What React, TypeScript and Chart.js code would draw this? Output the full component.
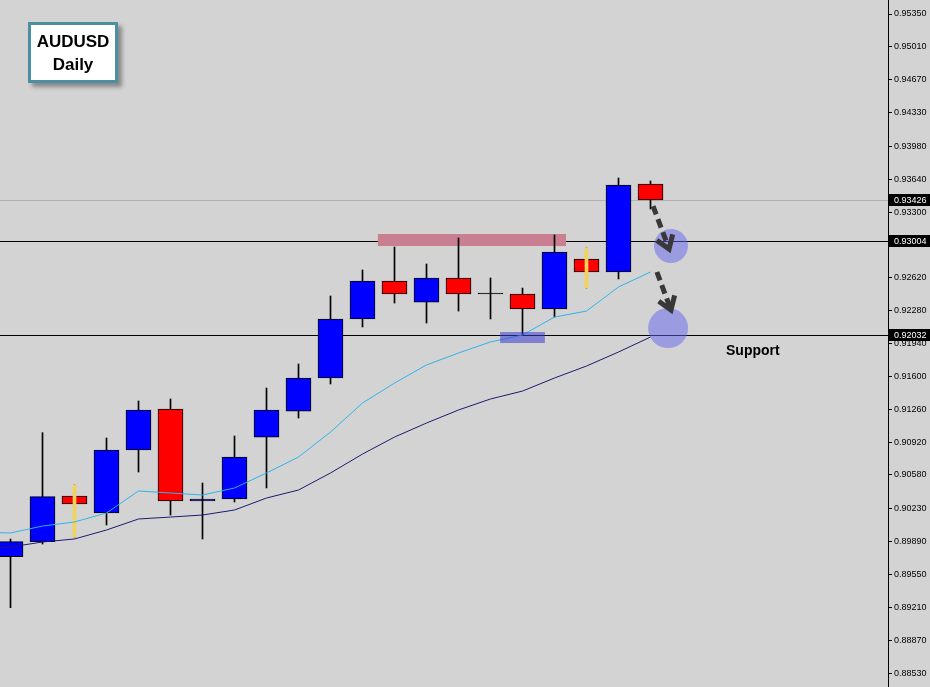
import { useEffect, useRef } from "react";
import { Chart, registerables } from "chart.js";

Chart.register(...registerables);

// ---- Data (AUDUSD Daily) ----
const candleIndex = [0, 1, 2, 3, 4, 5, 6, 7, 8, 9, 10, 11, 12, 13, 14, 15, 16, 17, 18, 19, 20];
const opens = [0.89734, 0.89889, 0.90362, 0.90186, 0.90838, 0.91262, 0.9031, 0.90331, 0.90972, 0.91241, 0.91583, 0.92194, 0.92587, 0.92369, 0.92618, 0.92452, 0.92452, 0.92297, 0.92814, 0.9268, 0.93591];
const highs = [0.89917, 0.91017, 0.90476, 0.90962, 0.91345, 0.91366, 0.90496, 0.90983, 0.91479, 0.91728, 0.92432, 0.92701, 0.92939, 0.92763, 0.93032, 0.92618, 0.92514, 0.93063, 0.92928, 0.93653, 0.93622];
const lows = [0.89206, 0.89865, 0.89937, 0.90062, 0.9061, 0.90165, 0.89917, 0.903, 0.90445, 0.91169, 0.91521, 0.92111, 0.92359, 0.92152, 0.92276, 0.92194, 0.92028, 0.92214, 0.92514, 0.92608, 0.93332];
const closes = [0.89889, 0.90355, 0.90279, 0.90838, 0.91252, 0.9031, 0.90331, 0.90765, 0.91252, 0.91583, 0.92194, 0.92587, 0.92452, 0.92618, 0.92452, 0.92452, 0.92297, 0.92887, 0.9268, 0.9358, 0.93426];
const highlightedCandles = [2, 18];

const maIndex = [-1, 0, 1, 2, 3, 4, 5, 6, 7, 8, 9, 10, 11, 12, 13, 14, 15, 16, 17, 18, 19, 20];
const maFast = [0.89989, 0.89979, 0.90051, 0.90093, 0.90186, 0.90414, 0.90393, 0.90372, 0.90445, 0.906, 0.90765, 0.91024, 0.91324, 0.91531, 0.91718, 0.91842, 0.91956, 0.92028, 0.92214, 0.92276, 0.92525, 0.9268];
const maSlow = [0.89815, 0.89834, 0.89886, 0.89917, 0.9001, 0.90124, 0.90144, 0.90165, 0.90217, 0.90341, 0.90424, 0.906, 0.90796, 0.90972, 0.91117, 0.91252, 0.91366, 0.91448, 0.91583, 0.91707, 0.91852, 0.92007];

const priceTicks = [0.9535, 0.9501, 0.9467, 0.9433, 0.9398, 0.9364, 0.933, 0.9296, 0.9262, 0.9228, 0.9194, 0.916, 0.9126, 0.9092, 0.9058, 0.9023, 0.8989, 0.8955, 0.8921, 0.8887, 0.8853];
const levelLines = [0.93004, 0.92032];
const currentPrice = 0.93426;
const priceMin = 0.883853;
const priceMax = 0.954949;

// zones: [xStart, xEnd, priceTop, priceBottom]
const resistanceZone = [11.48, 17.36, 0.93073, 0.92949];
const supportZone = [15.3, 16.7, 0.92059, 0.91945];
// circles: [x, price]
const targetCircles = [
  [20.64, 0.92949],
  [20.55, 0.921],
];
// arrows: [x0, p0, x1, p1]
const arrows = [
  [20.08, 0.93363, 20.58, 0.92918],
  [20.2, 0.9268, 20.64, 0.92287],
];
const supportLabel = { text: "Support", x: 22.36, price: 0.91862 };

const BULL = "#0000ff";
const BEAR = "#ff0000";
const BG = "#d3d3d3";

export default function App() {
  const ref = useRef<HTMLCanvasElement>(null);

  useEffect(() => {
    if (!ref.current) return;
    const bodies = candleIndex.map((x, i) => ({ x, y: [opens[i], closes[i]] }));
    const wicks = candleIndex.map((x, i) => ({ x, y: [lows[i], highs[i]] }));
    const bodyColors = candleIndex.map((_, i) =>
      closes[i] > opens[i] ? BULL : closes[i] < opens[i] ? BEAR : "#000000"
    );
    const yellow = highlightedCandles.map((i) => ({ x: candleIndex[i], y: [lows[i], highs[i]] }));
    const fast = maIndex.map((x, i) => ({ x, y: maFast[i] }));
    const slow = maIndex.map((x, i) => ({ x, y: maSlow[i] }));

    const overlay = {
      id: "overlay",
      beforeDatasetsDraw(chart: any) {
        const { ctx, chartArea: a, scales } = chart;
        const xs = scales.x;
        const ys = scales.y;
        ctx.save();
        ctx.lineWidth = 1;
        let yp = Math.round(ys.getPixelForValue(currentPrice)) + 0.5;
        ctx.strokeStyle = "#b2b2b2";
        ctx.beginPath();
        ctx.moveTo(a.left, yp);
        ctx.lineTo(a.right, yp);
        ctx.stroke();
        ctx.strokeStyle = "#000";
        levelLines.forEach((lv) => {
          yp = Math.round(ys.getPixelForValue(lv)) + 0.5;
          ctx.beginPath();
          ctx.moveTo(a.left, yp);
          ctx.lineTo(a.right, yp);
          ctx.stroke();
        });
        const [rx0, rx1, rt, rb] = resistanceZone;
        const px0 = xs.getPixelForValue(rx0);
        const px1 = xs.getPixelForValue(rx1);
        const py0 = ys.getPixelForValue(rt);
        const py1 = ys.getPixelForValue(rb);
        ctx.fillStyle = "#c97e91";
        ctx.fillRect(px0, py0, px1 - px0, py1 - py0);
        ctx.restore();
      },
      afterDatasetsDraw(chart: any) {
        const { ctx, scales } = chart;
        const xs = scales.x;
        const ys = scales.y;
        ctx.save();
        const [sx0, sx1, st, sb] = supportZone;
        const a0 = xs.getPixelForValue(sx0);
        const a1 = xs.getPixelForValue(sx1);
        const b0 = ys.getPixelForValue(st);
        const b1 = ys.getPixelForValue(sb);
        ctx.fillStyle = "rgba(60,60,210,0.55)";
        ctx.fillRect(a0, b0, a1 - a0, b1 - b0);

        const radii = [17, 20];
        targetCircles.forEach(([cx, cp], i) => {
          ctx.fillStyle = "rgba(100,100,240,0.5)";
          ctx.beginPath();
          ctx.arc(xs.getPixelForValue(cx), ys.getPixelForValue(cp), radii[i], 0, Math.PI * 2);
          ctx.fill();
        });

        ctx.strokeStyle = "#383838";
        ctx.lineWidth = 5;
        arrows.forEach(([x0, p0, x1, p1]) => {
          const X0 = xs.getPixelForValue(x0);
          const Y0 = ys.getPixelForValue(p0);
          const X1 = xs.getPixelForValue(x1);
          const Y1 = ys.getPixelForValue(p1);
          const ang = Math.atan2(Y1 - Y0, X1 - X0);
          ctx.setLineDash([9, 5]);
          ctx.lineCap = "butt";
          ctx.beginPath();
          ctx.moveTo(X0, Y0);
          ctx.lineTo(X1 - Math.cos(ang) * 3, Y1 - Math.sin(ang) * 3);
          ctx.stroke();
          ctx.setLineDash([]);
          ctx.lineJoin = "miter";
          const hl = 15;
          const spread = 0.6;
          ctx.beginPath();
          ctx.moveTo(X1 - hl * Math.cos(ang - spread), Y1 - hl * Math.sin(ang - spread));
          ctx.lineTo(X1, Y1);
          ctx.lineTo(X1 - hl * Math.cos(ang + spread), Y1 - hl * Math.sin(ang + spread));
          ctx.stroke();
        });

        ctx.fillStyle = "#000";
        ctx.font = "bold 14px 'Liberation Sans', Arial, sans-serif";
        ctx.textAlign = "left";
        ctx.textBaseline = "middle";
        ctx.fillText(supportLabel.text, xs.getPixelForValue(supportLabel.x), ys.getPixelForValue(supportLabel.price));
        ctx.restore();
      },
      afterDraw(chart: any) {
        const { ctx, chartArea: a, scales } = chart;
        const ys = scales.y;
        ctx.save();
        ctx.font = "9px 'Liberation Sans', Arial, sans-serif";
        ctx.textBaseline = "middle";
        ctx.textAlign = "left";
        [currentPrice, ...levelLines].forEach((p) => {
          const yp = Math.round(ys.getPixelForValue(p));
          ctx.fillStyle = "#000";
          ctx.fillRect(a.right + 1, yp - 6, 41, 12);
          ctx.fillStyle = "#fff";
          ctx.fillText(p.toFixed(5), a.right + 6, yp + 0.5);
        });
        ctx.restore();
      },
    };

    const chart = new Chart(ref.current, {
      type: "bar",
      data: {
        datasets: [
          {
            type: "bar",
            data: wicks as any,
            backgroundColor: "#000",
            borderWidth: 0,
            barThickness: 1,
            grouped: false,
            order: 4,
          } as any,
          {
            type: "bar",
            data: bodies as any,
            backgroundColor: bodyColors,
            borderColor: "#000",
            borderWidth: 1,
            borderSkipped: false,
            barThickness: 25,
            minBarLength: 1,
            grouped: false,
            order: 3,
          } as any,
          {
            type: "bar",
            data: yellow as any,
            backgroundColor: "#f2d35c",
            borderWidth: 0,
            barThickness: 3,
            grouped: false,
            order: 2,
          } as any,
          {
            type: "line",
            data: fast as any,
            borderColor: "#2eb4ea",
            borderWidth: 1,
            pointRadius: 0,
            tension: 0,
            order: 1,
          } as any,
          {
            type: "line",
            data: slow as any,
            borderColor: "#1b1b70",
            borderWidth: 1,
            pointRadius: 0,
            tension: 0,
            order: 1,
          } as any,
        ],
      },
      options: {
        animation: false,
        responsive: true,
        maintainAspectRatio: false,
        layout: { padding: 0 },
        plugins: { legend: { display: false }, tooltip: { enabled: false } },
        scales: {
          x: {
            type: "linear",
            display: false,
            offset: false,
            min: -10.5 / 32,
            max: (888 - 10.5) / 32,
          },
          y: {
            type: "linear",
            position: "right",
            min: priceMin,
            max: priceMax,
            beginAtZero: false,
            afterBuildTicks: (s: any) => {
              s.ticks = priceTicks.map((v) => ({ value: v }));
            },
            afterFit: (s: any) => {
              s.width = 42;
              s.paddingTop = 0;
              s.paddingBottom = 0;
            },
            grid: {
              display: true,
              drawOnChartArea: false,
              drawTicks: true,
              tickLength: 4,
              color: "#000",
            },
            border: { display: true, color: "#000", width: 1 },
            ticks: {
              autoSkip: false,
              padding: 2,
              color: "#000",
              font: { family: "'Liberation Sans', Arial, sans-serif", size: 9 },
              callback: (v: any) => Number(v).toFixed(5),
            },
          } as any,
        },
      },
      plugins: [overlay],
    } as any);

    return () => chart.destroy();
  }, []);

  return (
    <div style={{ position: "relative", width: 930, height: 687, background: BG, overflow: "hidden" }}>
      <style>{"body{margin:0}"}</style>
      <canvas ref={ref} />
      <div
        style={{
          position: "absolute",
          left: 28,
          top: 22,
          width: 90,
          height: 61,
          boxSizing: "border-box",
          border: "3px solid #4b8fa1",
          background: "#fff",
          boxShadow: "4px 4px 4px rgba(0,0,0,0.35)",
          fontFamily: "'Liberation Sans', Arial, sans-serif",
          fontWeight: "bold",
          fontSize: 17,
          lineHeight: "23px",
          textAlign: "center",
          paddingTop: 5,
          color: "#000",
        }}
      >
        <div>AUDUSD</div>
        <div>Daily</div>
      </div>
    </div>
  );
}
